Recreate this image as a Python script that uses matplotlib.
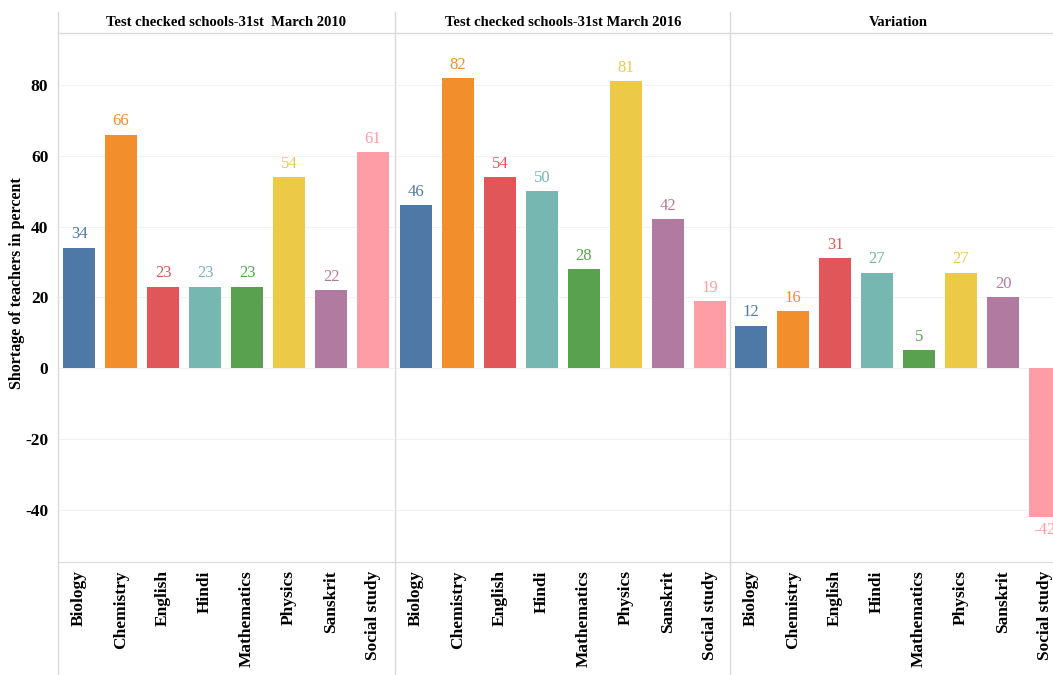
import matplotlib.pyplot as plt
from matplotlib.lines import Line2D

subjects = ['Biology', 'Chemistry', 'English', 'Hindi', 'Mathematics',
            'Physics', 'Sanskrit', 'Social study']
shortage_2010 = [34, 66, 23, 23, 23, 54, 22, 61]
shortage_2016 = [46, 82, 54, 50, 28, 81, 42, 19]
variation = [12, 16, 31, 27, 5, 27, 20, -42]
panel_titles = ['Test checked schools-31st  March 2010',
                'Test checked schools-31st March 2016',
                'Variation']

colors = ['#4e79a7', '#f28e2b', '#e15759', '#76b7b2',
          '#59a14f', '#edc948', '#b07aa1', '#ff9da7']

plt.rcParams['font.family'] = ['Liberation Serif', 'DejaVu Serif']
plt.rcParams['axes.unicode_minus'] = False

W, H = 1053, 675
fig = plt.figure(figsize=(W / 100, H / 100), dpi=100)

def fx(px):
  return px / W

def fy(py):
  return 1 - py / H

top_px, bot_px = 33, 562
panel_left = [58, 395, 730]
panel_w = 336
grid_c = '#d9d9d9'

for i, vals in enumerate([shortage_2010, shortage_2016, variation]):
  ax = fig.add_axes([fx(panel_left[i]), fy(bot_px), fx(panel_w),
                     fy(top_px) - fy(bot_px)])
  x = range(len(subjects))
  ax.bar(x, vals, width=0.76, color=colors, zorder=3)
  for xi, v, c in zip(x, vals, colors):
    if v >= 0:
      ax.text(xi, v + 1.5, str(v), ha='center', va='bottom',
              color=c, fontsize=12)
    else:
      ax.text(xi, v - 1.5, str(v), ha='center', va='top',
              color=c, fontsize=12)
  ax.set_xlim(-0.5, 7.5)
  ax.set_ylim(-54.8, 94.7)
  ax.set_yticks([-40, -20, 0, 20, 40, 60, 80])
  ax.grid(axis='y', color='#f2f2f2', linewidth=0.8, zorder=0)
  ax.set_xticks(list(x))
  ax.set_xticklabels(subjects, rotation=90, fontsize=12.5,
                     fontweight='bold', va='top')
  ax.tick_params(axis='x', length=0, pad=6)
  ax.tick_params(axis='y', length=0, labelsize=12.5, pad=7)
  for lab in ax.get_yticklabels():
    lab.set_fontweight('bold')
  if i > 0:
    ax.tick_params(axis='y', labelleft=False)
  else:
    ax.set_ylabel('Shortage of teachers in percent', fontsize=11.5,
                  fontweight='bold')
    ax.yaxis.set_label_coords(-33 / panel_w, 0.527)
  for s in ['top', 'right', 'left']:
    ax.spines[s].set_visible(False)
  ax.spines['bottom'].set_color(grid_c)
  ax.set_facecolor('none')
  fig.text(fx(panel_left[i] + panel_w / 2), fy(22), panel_titles[i],
           ha='center', va='center', fontsize=10.5, fontweight='bold')

# header and separator lines
fig.add_artist(Line2D([fx(58), 1], [fy(top_px), fy(top_px)],
                      color=grid_c, linewidth=1))
for px in [58, 395, 730]:
  fig.add_artist(Line2D([fx(px), fx(px)], [fy(H), fy(12)],
                        color=grid_c, linewidth=1))

fig.savefig('out.png', dpi=100)
